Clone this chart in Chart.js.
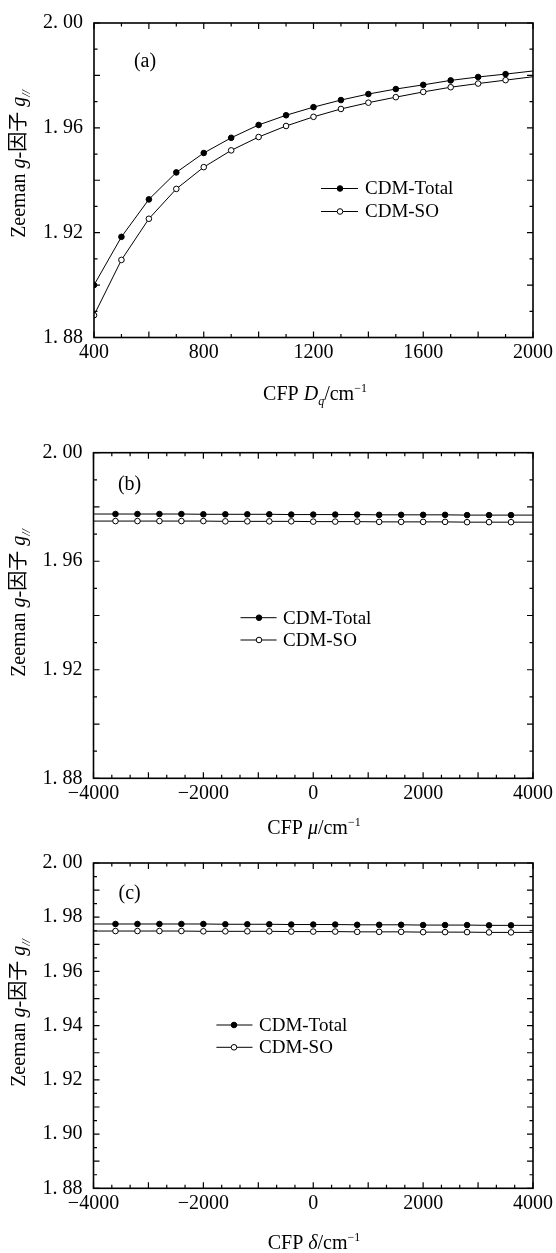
<!DOCTYPE html>
<html><head><meta charset="utf-8">
<script src="https://cdn.jsdelivr.net/npm/chart.js@4.4.0/dist/chart.umd.min.js"></script>
<style>
html,body{margin:0;padding:0;background:#fff;width:556px;height:1253px;overflow:hidden}
canvas{position:absolute;left:0;display:block}
</style></head><body>
<canvas id="ca" width="556" height="420" style="top:0px"></canvas>
<canvas id="cb" width="556" height="420" style="top:420px"></canvas>
<canvas id="cc" width="556" height="413" style="top:840px"></canvas>
<script>
// ---------- data ----------
const dqValues = [400,500,600,700,800,900,1000,1100,1200,1300,1400,1500,1600,1700,1800,1900,2000];
const gTotalA = [1.9000,1.9184,1.9327,1.9430,1.9504,1.9562,1.9611,1.9648,1.9679,1.9706,1.9729,1.9748,1.9764,1.9781,1.9794,1.9805,1.9817];
const gSOA    = [1.8885,1.9096,1.9253,1.9367,1.9450,1.9514,1.9565,1.9607,1.9642,1.9672,1.9696,1.9717,1.9737,1.9755,1.9769,1.9782,1.9795];

const muValues = [-4000,-3600,-3200,-2800,-2400,-2000,-1600,-1200,-800,-400,0,400,800,1200,1600,2000,2400,2800,3200,3600,4000];
const gTotalB = [1.9774,1.9774,1.9774,1.9774,1.9774,1.9773,1.9773,1.9773,1.9773,1.9772,1.9772,1.9772,1.9772,1.9771,1.9771,1.9771,1.9771,1.9770,1.9770,1.9770,1.9770];
const gSOB    = [1.9748,1.9748,1.9748,1.9748,1.9748,1.9748,1.9747,1.9747,1.9747,1.9747,1.9746,1.9746,1.9746,1.9745,1.9745,1.9745,1.9745,1.9744,1.9744,1.9744,1.9744];

const deltaValues = [-4000,-3600,-3200,-2800,-2400,-2000,-1600,-1200,-800,-400,0,400,800,1200,1600,2000,2400,2800,3200,3600,4000];
const gTotalC = [1.9775,1.9775,1.9775,1.9775,1.9775,1.9775,1.9774,1.9774,1.9774,1.9773,1.9773,1.9773,1.9772,1.9772,1.9772,1.9771,1.9771,1.9771,1.9770,1.9770,1.9770];
const gSOC    = [1.9749,1.9749,1.9749,1.9749,1.9749,1.9748,1.9748,1.9748,1.9748,1.9747,1.9747,1.9747,1.9746,1.9746,1.9746,1.9745,1.9745,1.9745,1.9744,1.9744,1.9744];

const seriesNames = ['CDM-Total','CDM-SO'];
const panelNames = ['(a)','(b)','(c)'];

const xTicksA = [400,800,1200,1600,2000];
const xTickLabelsA = ['400','800','1200','1600','2000'];
const xTicksBC = [-4000,-2000,0,2000,4000];
const xTickLabelsBC = ['\u22124000','\u22122000','0','2000','4000'];
const yTicksAB = [1.88,1.92,1.96,2.00];
const yTickLabelsAB = ['1. 88','1. 92','1. 96','2. 00'];
const yTicksC = [1.88,1.90,1.92,1.94,1.96,1.98,2.00];
const yTickLabelsC = ['1. 88','1. 90','1. 92','1. 94','1. 96','1. 98','2. 00'];

const yTitle = [
  {t:'Zeeman ', s:'r'}, {t:'g', s:'i'}, {t:'-', s:'r'}, {t:'因子', s:'cjk'}, {t:' ', s:'r'}, {t:'g', s:'i'}, {t:'//', s:'sub'}
];
const xTitleA = [{t:'CFP ', s:'r'},{t:'D', s:'i'},{t:'q', s:'sub'},{t:'/cm', s:'r'},{t:'\u22121', s:'sup'}];
const xTitleB = [{t:'CFP ', s:'r'},{t:'\u03bc', s:'i'},{t:'/cm', s:'r'},{t:'\u22121', s:'sup'}];
const xTitleC = [{t:'CFP ', s:'r'},{t:'\u03b4', s:'i'},{t:'/cm', s:'r'},{t:'\u22121', s:'sup'}];

// ---------- styling helpers ----------
const SERIF = '"Liberation Serif","Times New Roman",serif';
const FS = 20;
function segFont(s){
  if(s==='i') return 'italic '+FS+'px '+SERIF;
  if(s==='sub') return 'italic '+Math.round(FS*0.6)+'px '+SERIF;
  if(s==='sup') return Math.round(FS*0.62)+'px '+SERIF;
  if(s==='cjk') return FS+'px "Noto Sans CJK SC",'+SERIF;
  return FS+'px '+SERIF;
}
function segDy(s){ return s==='sub'?5:(s==='sup'?-8:0); }
function drawRich(ctx, segs, cx, baseY){
  let w = 0;
  segs.forEach(g=>{ ctx.font = segFont(g.s); w += ctx.measureText(g.t).width; });
  let x = cx - w/2;
  ctx.textAlign = 'left'; ctx.textBaseline = 'alphabetic';
  segs.forEach(g=>{ ctx.font = segFont(g.s); ctx.fillText(g.t, x, baseY + segDy(g.s)); x += ctx.measureText(g.t).width; });
}

const decor = {
  id: 'decor',
  afterDraw(chart, args, o){
    const ctx = chart.ctx;
    const {left, right, top, bottom} = chart.chartArea;
    const xs = chart.scales.x, ys = chart.scales.y;
    ctx.save();
    ctx.strokeStyle = '#000'; ctx.fillStyle = '#000';
    // frame
    ctx.lineWidth = 1.6;
    ctx.strokeRect(left, top, right-left, bottom-top);
    // inward ticks
    ctx.lineWidth = 1.2;
    ctx.beginPath();
    const nx = Math.round((xs.max - xs.min)/o.xShort);
    for(let k=0;k<=nx;k++){
      const v = xs.min + k*o.xShort;
      const r = v/o.xLong; const isLong = Math.abs(r-Math.round(r))<1e-6;
      const len = isLong?6:3.5; const p = xs.getPixelForValue(v);
      ctx.moveTo(p, bottom); ctx.lineTo(p, bottom-len);
      ctx.moveTo(p, top); ctx.lineTo(p, top+len);
    }
    const ny = Math.round((ys.max - ys.min)/o.yShort);
    for(let k=0;k<=ny;k++){
      const v = ys.min + k*o.yShort;
      const r = (v-ys.min)/o.yLong; const isLong = Math.abs(r-Math.round(r))<1e-6;
      const len = isLong?6:3.5; const p = ys.getPixelForValue(v);
      ctx.moveTo(left, p); ctx.lineTo(left+len, p);
      ctx.moveTo(right, p); ctx.lineTo(right-len, p);
    }
    ctx.stroke();
    // panel label
    ctx.font = FS+'px '+SERIF; ctx.textAlign='center'; ctx.textBaseline='middle';
    ctx.fillText(o.panel, o.panelX, o.panelY);
    // legend
    const dsets = chart.data.datasets;
    o.legRows.forEach((ry, i)=>{
      const d = dsets[i];
      ctx.lineWidth = 1; ctx.strokeStyle='#000';
      ctx.beginPath(); ctx.moveTo(o.legX1, ry); ctx.lineTo(o.legX2, ry); ctx.stroke();
      ctx.beginPath(); ctx.arc(o.legM, ry, 2.8, 0, Math.PI*2);
      ctx.fillStyle = d.pointBackgroundColor; ctx.fill(); ctx.stroke();
      ctx.fillStyle = '#000'; ctx.font = '19px '+SERIF; ctx.textAlign='left'; ctx.textBaseline='middle';
      ctx.fillText(d.label, o.legT, ry+1);
    });
    // x title
    drawRich(ctx, o.xTitle, o.xTitleX, o.xTitleY + 7);
    // y title (rotated)
    ctx.translate(o.yTitleX + 7, o.yTitleY);
    ctx.rotate(-Math.PI/2);
    drawRich(ctx, yTitle, 0, 0);
    ctx.restore();
  }
};

function makeChart(id, H, area, xv, tot, so, xr, xt, xtl, yt, ytl, markRange, dec){
  const mk = (ys)=> xv.map((x,i)=>({x:x, y:ys[i]}));
  const rad = (c)=>{ const x = c.raw ? c.raw.x : 0; return (x>=markRange[0] && x<=markRange[1]) ? 2.8 : 0; };
  return new Chart(document.getElementById(id), {
    type: 'line',
    data: { datasets: [
      { label: seriesNames[0], data: mk(tot), borderColor:'#000', borderWidth:1, pointRadius: rad,
        pointBackgroundColor:'#000', pointBorderColor:'#000', pointBorderWidth:1, tension:0, fill:false },
      { label: seriesNames[1], data: mk(so), borderColor:'#000', borderWidth:1, pointRadius: rad,
        pointBackgroundColor:'#fff', pointBorderColor:'#000', pointBorderWidth:1, tension:0, fill:false }
    ]},
    options: {
      responsive:false, animation:false, events:[],
      layout:{ padding:{ left:0, top:area.T, right:556-area.R, bottom:0 } },
      plugins:{ legend:{display:false}, tooltip:{enabled:false}, decor: dec },
      scales:{
        x:{ type:'linear', min:xr[0], max:xr[1], offset:false,
            afterBuildTicks:(s)=>{ s.ticks = xt.map(v=>({value:v})); },
            afterFit:(s)=>{ s.height = H - area.B; },
            grid:{display:false, drawTicks:false}, border:{display:false},
            ticks:{ callback:(v,i)=>xtl[i], color:'#000', font:{family:SERIF, size:FS}, padding:3, maxRotation:0, autoSkip:false } },
        y:{ type:'linear', min:1.88, max:2.00,
            afterBuildTicks:(s)=>{ s.ticks = yt.map(v=>({value:v})); },
            afterFit:(s)=>{ s.width = area.L; },
            grid:{display:false, drawTicks:false}, border:{display:false},
            ticks:{ callback:(v,i)=>ytl[i], color:'#000', font:{family:SERIF, size:FS}, padding:11, autoSkip:false } }
      }
    },
    plugins:[decor]
  });
}

makeChart('ca', 420, {L:94, R:536, T:14.7, B:337.5}, dqValues, gTotalA, gSOA, [400,2000], xTicksA, xTickLabelsA, yTicksAB, yTickLabelsAB, [400,1900],
  { panel:panelNames[0], panelX:145, panelY:62, legX1:321, legX2:358, legM:340, legT:365, legRows:[188.5,211.5],
    xTitle:xTitleA, xTitleX:315, xTitleY:393, yTitleX:17.7, yTitleY:164, xShort:100, xLong:200, yShort:0.01, yLong:0.02 });

makeChart('cb', 420, {L:93.5, R:535, T:32.7, B:358.3}, muValues, gTotalB, gSOB, [-4000,4000], xTicksBC, xTickLabelsBC, yTicksAB, yTickLabelsAB, [-3600,3600],
  { panel:panelNames[1], panelX:129.6, panelY:65, legX1:240.5, legX2:276.6, legM:259, legT:283, legRows:[197.7,220],
    xTitle:xTitleB, xTitleX:314, xTitleY:406.7, yTitleX:17.7, yTitleY:183, xShort:1000/3, xLong:1000, yShort:0.01, yLong:0.02 });

makeChart('cc', 413, {L:93.5, R:535, T:20.5, B:348.3}, deltaValues, gTotalC, gSOC, [-4000,4000], xTicksBC, xTickLabelsBC, yTicksC, yTickLabelsC, [-3600,3600],
  { panel:panelNames[2], panelX:129.6, panelY:53.3, legX1:216.4, legX2:252.5, legM:234, legT:259, legRows:[185,207.3],
    xTitle:xTitleC, xTitleX:314, xTitleY:401.7, yTitleX:17.7, yTitleY:173, xShort:1000/3, xLong:1000, yShort:0.005, yLong:0.01 });
</script>
</body></html>
